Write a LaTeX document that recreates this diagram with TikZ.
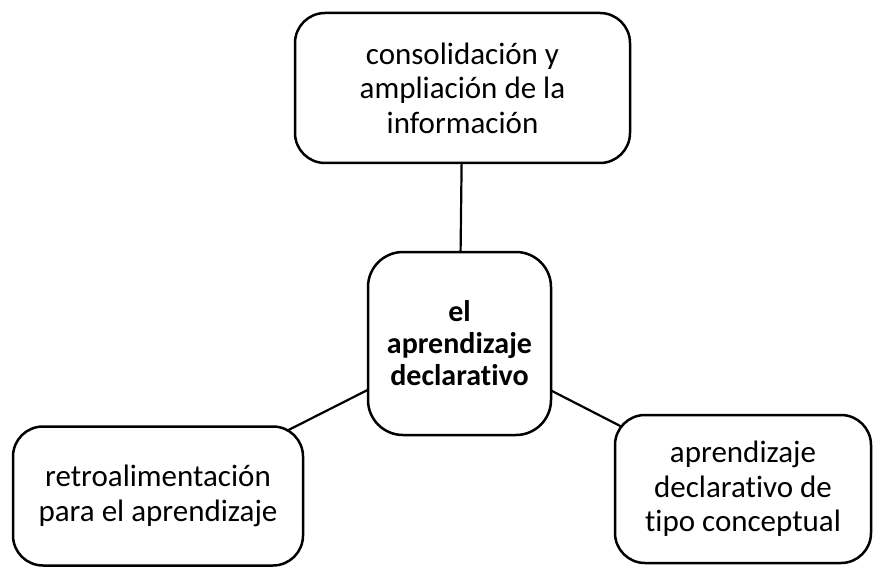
\documentclass[tikz,border=0pt]{standalone}
\usepackage{fontspec}
\setmainfont[Ligatures=NoCommon]{Carlito}
\usetikzlibrary{backgrounds}
\begin{document}
\begin{tikzpicture}[x=1pt,y=-1pt,
  box/.style={draw=black,line width=2.5pt,rounded corners=30pt,fill=white,align=center,
    font=\fontsize{31}{34.5}\selectfont,inner sep=0pt},
  link/.style={draw=black,line width=2.2pt}]
\useasboundingbox (0,0) rectangle (873,567);
\node[box,minimum width=335pt,minimum height=150pt] (top) at (462.5,88) {consolidación y\\ampliación de la\\información};
\node[box,minimum width=183pt,minimum height=183pt,rounded corners=35pt,font=\fontsize{30}{32}\selectfont\bfseries] (c) at (459.5,343.5) {el\\aprendizaje\\declarativo};
\node[box,minimum width=290pt,minimum height=139pt] (l) at (158,496) {retroalimentación\\para el aprendizaje};
\node[box,minimum width=256pt,minimum height=148pt] (r) at (743,489) {aprendizaje\\declarativo de\\tipo conceptual};
\begin{scope}[on background layer]
\draw[link] (top.center) -- (c.center);
\draw[link] (c.center) -- (l.center);
\draw[link] (c.center) -- (r.center);
\end{scope}
\end{tikzpicture}
\end{document}
